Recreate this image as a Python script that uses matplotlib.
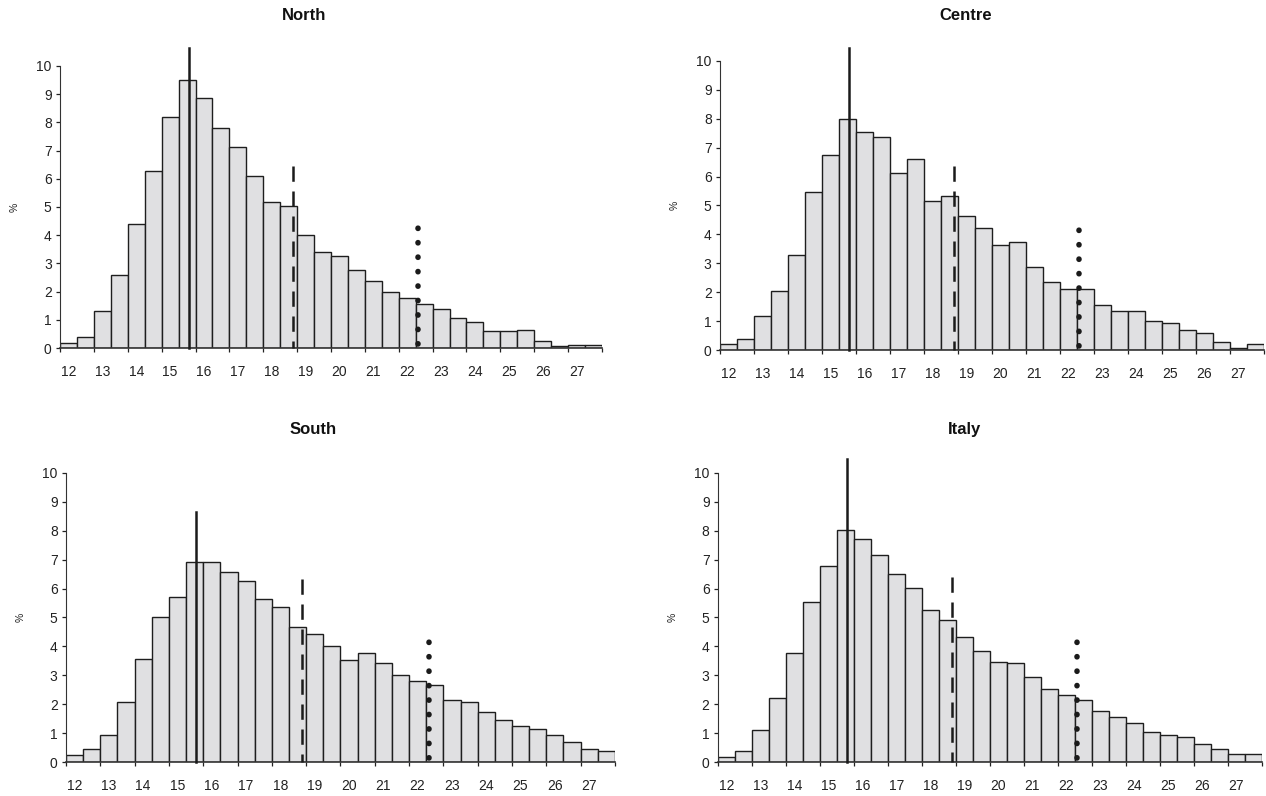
import matplotlib
matplotlib.use("Agg")
import matplotlib.pyplot as plt
import numpy as np

plt.rcParams["font.family"] = ["Liberation Sans", "DejaVu Sans"]
plt.rcParams["lines.scale_dashes"] = False

# BMI-like classes, 0.5 wide, from 12 to 28
bin_left = np.arange(12.0, 28.0, 0.5)

north = [0.18, 0.39, 1.32, 2.60, 4.39, 6.26, 8.18, 9.49, 8.88, 7.80, 7.14, 6.10,
         5.19, 5.02, 4.00, 3.40, 3.25, 2.77, 2.38, 2.00, 1.77, 1.55, 1.40, 1.07,
         0.91, 0.59, 0.61, 0.64, 0.25, 0.08, 0.10, 0.10]
centre = [0.20, 0.37, 1.19, 2.03, 3.28, 5.45, 6.74, 7.99, 7.55, 7.38, 6.13, 6.62,
          5.14, 5.33, 4.64, 4.22, 3.65, 3.72, 2.86, 2.36, 2.10, 2.10, 1.55, 1.36,
          1.36, 0.99, 0.92, 0.68, 0.58, 0.27, 0.08, 0.20]
south = [0.25, 0.44, 0.93, 2.06, 3.58, 5.03, 5.72, 6.93, 6.93, 6.59, 6.26, 5.65,
         5.38, 4.67, 4.43, 4.00, 3.52, 3.78, 3.43, 3.02, 2.81, 2.65, 2.13, 2.06,
         1.74, 1.44, 1.24, 1.15, 0.93, 0.70, 0.46, 0.39]
italy = [0.18, 0.37, 1.10, 2.23, 3.76, 5.52, 6.78, 8.03, 7.73, 7.16, 6.52, 6.02,
         5.27, 4.91, 4.34, 3.83, 3.46, 3.44, 2.93, 2.52, 2.32, 2.16, 1.76, 1.56,
         1.35, 1.04, 0.95, 0.85, 0.61, 0.44, 0.28, 0.28]

# reference lines: x positions shared, heights per panel
cut_x = [15.8, 18.88, 22.57]          # solid, dashed, dotted
cut_top = {
    "North": [10.63, 6.47, 4.31],
    "Centre": [10.44, 6.37, 4.25],
    "South": [8.65, 6.33, 4.27],
    "Italy": [10.48, 6.39, 4.25],
}
dot_bottom = 0.15

panels = [
    ("North", north, [0.0474, 0.5628, 0.4281, 0.3543], (0.240, 0.981)),
    ("Centre", centre, [0.5687, 0.5603, 0.4297, 0.3631], (0.763, 0.981)),
    ("South", south, [0.0521, 0.0427, 0.4336, 0.3631], (0.247, 0.460)),
    ("Italy", italy, [0.5671, 0.0427, 0.4297, 0.3631], (0.762, 0.460)),
]

fig = plt.figure(figsize=(12.66, 7.96), dpi=100)

for name, vals, rect, tpos in panels:
    ax = fig.add_axes(rect)
    ax.bar(bin_left, vals, width=0.5, align="edge", color="#e0e0e2",
           edgecolor="#1e1e1e", linewidth=1.0, zorder=2)

    top_s, top_d, top_o = cut_top[name]
    ax.plot([cut_x[0], cut_x[0]], [0, top_s], color="#1a1a1a", lw=1.8,
            clip_on=False, zorder=3)
    ax.plot([cut_x[1], cut_x[1]], [top_d, 0], color="#1a1a1a", lw=1.8,
            dashes=(11, 7), clip_on=False, zorder=3)
    ax.plot([cut_x[2], cut_x[2]], [dot_bottom, top_o + 0.05], color="#1a1a1a",
            lw=4.0, dashes=(0.2, 10.2), dash_capstyle="round", clip_on=False,
            zorder=3)

    ax.set_xlim(12, 28)
    ax.set_ylim(0, 10)
    for s in ("top", "right"):
        ax.spines[s].set_visible(False)
    ax.spines["left"].set_color("#333333")
    ax.spines["bottom"].set_color("#333333")
    ax.spines["bottom"].set_linewidth(1.2)

    ax.set_yticks(range(0, 11))
    ax.tick_params(axis="y", direction="out", length=3, width=0.9, pad=3,
                   labelsize=10, colors="#222222")
    ax.set_xticks(range(12, 29))
    ax.set_xticklabels([])
    ax.tick_params(axis="x", which="major", direction="out", length=3, width=0.9,
                   colors="#222222")
    ax.set_xticks(np.arange(12.25, 28, 1.0), minor=True)
    ax.set_xticklabels([str(v) for v in range(12, 28)], minor=True)
    ax.tick_params(axis="x", which="minor", length=0, pad=12, labelsize=10,
                   labelcolor="#222222")

    ax.set_ylabel("%", fontsize=7.5, labelpad=12, color="#222222")
    fig.text(tpos[0], tpos[1], name, ha="center", va="center",
             fontsize=12, fontweight="bold", color="#111111")

fig.savefig("out.png", dpi=100)
